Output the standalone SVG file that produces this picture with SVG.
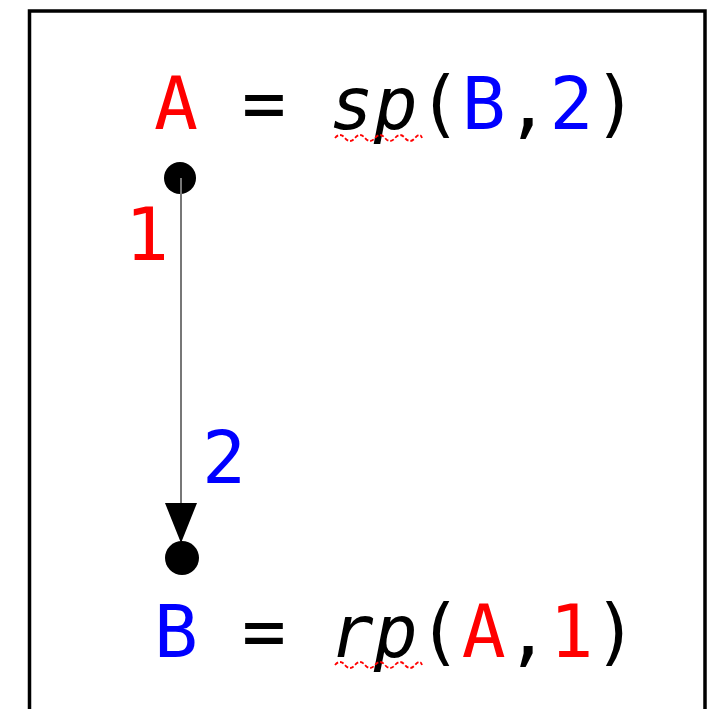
<svg xmlns="http://www.w3.org/2000/svg" width="712" height="709" viewBox="0 0 712 709">
<style>
.t{font-family:"DejaVu Sans Mono","Liberation Mono",monospace;font-size:73px;fill:#000}
.r{fill:#ff0000}.b{fill:#0000ff}.i{font-style:italic}
.sq{fill:none;stroke:#ff0000;stroke-width:1.8;stroke-dasharray:4 2}
</style>
<defs>
<marker id="ah" markerUnits="userSpaceOnUse" markerWidth="40" markerHeight="34" refX="38" refY="16" orient="auto" viewBox="0 0 40 32">
<path d="M0,0 L40,16 L0,32 Z" fill="#000"/>
</marker>
</defs>
<rect width="712" height="709" fill="#fff"/>
<path d="M29.5,709 V11 H705 V709" fill="none" stroke="#000" stroke-width="3.5"/>
<g id="nodeA">
<text class="t" x="154" y="129"><tspan class="r">A</tspan> = <tspan class="i">sp</tspan>(<tspan class="b">B</tspan>,<tspan class="b">2</tspan>)</text>
<path class="sq" d="M335,138 q5,-6 10,0 t10,0 t10,0 t10,0 t10,0 t10,0 t10,0 t10,0 t7,0"/>
<circle cx="180" cy="178" r="16" fill="#000"/>
</g>
<g id="nodeB">
<text class="t" x="154" y="657"><tspan class="b">B</tspan> = <tspan class="i">rp</tspan>(<tspan class="r">A</tspan>,<tspan class="r">1</tspan>)</text>
<path class="sq" d="M335,665 q5,-6 10,0 t10,0 t10,0 t10,0 t10,0 t10,0 t10,0 t10,0 t7,0"/>
<circle cx="182" cy="558" r="17" fill="#000"/>
</g>
<g id="connectors">
<line x1="181" y1="178" x2="181" y2="541" stroke="#777" stroke-width="2" marker-end="url(#ah)"/>
<text class="t r" x="147" y="260" text-anchor="middle">1</text>
<text class="t b" x="224" y="483" text-anchor="middle">2</text>
</g>
</svg>
